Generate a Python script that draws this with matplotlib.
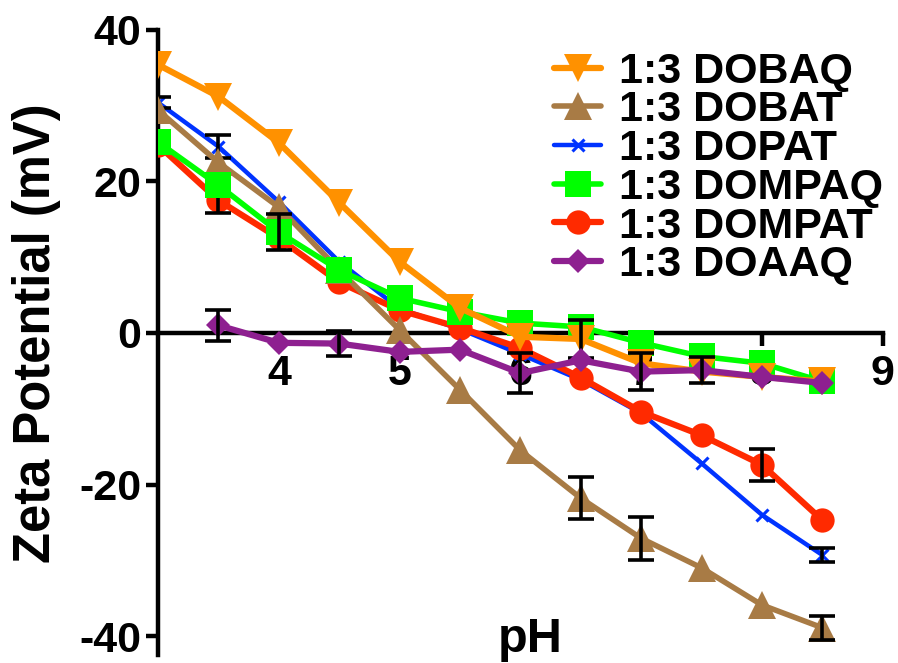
import numpy as np
import matplotlib.pyplot as plt

# ============================================================
# Style
# ============================================================

plt.rcParams.update({
    "font.family": ["Liberation Sans", "DejaVu Sans"],
    "font.weight": "bold",
    "axes.unicode_minus": False,
    "axes.linewidth": 3.2,
    "xtick.major.width": 3.2,
    "ytick.major.width": 3.2,
    "xtick.major.size": 9,
    "ytick.major.size": 9,
})

# ============================================================
# Data; sd = 0 means the bar is hidden by the marker
# ============================================================

ph = [3, 3.5, 4, 4.5, 5, 5.5, 6, 6.5, 7, 7.5, 8, 8.5]
ph_doaaq = ph[1:]

dobaq = [35.4, 31.2, 25.1, 17.2, 9.4, 3.3, -0.5, -0.8, -4.0, -5.1, -5.8, -6.4]
dobaq_sd = [0, 0, 0, 0, 0, 0, 0, 2.5, 0, 0, 0, 0]

dobat = [29.4, 22.5, 16.6, 8.3, 0.4, -7.5, -15.5, -21.8, -27.1, -31.0, -35.9, -38.9]
dobat_sd = [0, 0, 0, 0, 0, 0, 0, 2.8, 2.8, 0, 0, 1.6]

dopat = [30.4, 24.6, 17.3, 9.4, 3.2, 0.5, -2.8, -6.2, -10.6, -17.2, -24.0, -29.3]
dopat_sd = [0.7, 1.5, 0, 0, 0, 0, 0, 0, 0, 0, 0, 0.9]

dompaq = [25.2, 19.5, 13.3, 8.3, 4.6, 2.8, 1.3, 0.8, -1.3, -3.1, -4.0, -6.4]
dompaq_sd = [0, 0, 2.4, 0, 0, 0, 0, 0, 0, 0, 0, 0]

dompat = [24.8, 17.5, 12.5, 6.7, 3.0, 0.7, -2.0, -5.9, -10.4, -13.5, -17.4, -24.7]
dompat_sd = [0, 1.7, 0, 0, 0, 0, 0, 0, 0, 0, 2.1, 0]

doaaq = [1.0, -1.3, -1.4, -2.5, -2.2, -5.3, -3.6, -5.1, -4.9, -5.8, -6.6]
doaaq_sd = [2.0, 0, 1.7, 0, 0, 2.6, 0, 2.4, 1.7, 0, 0]

# label, x, y, sd, color, marker, markersize, linewidth, zorder
series = [
    ("1:3 DOBAQ", ph, dobaq, dobaq_sd, "#FF9100", "v", 20, 4.5, 9),
    ("1:3 DOBAT", ph, dobat, dobat_sd, "#A87B45", "^", 20, 4.0, 6),
    ("1:3 DOPAT", ph, dopat, dopat_sd, "#0033FF", "x", 9, 3.2, 4),
    ("1:3 DOMPAQ", ph, dompaq, dompaq_sd, "#00FF00", "s", 18.5, 4.0, 8),
    ("1:3 DOMPAT", ph, dompat, dompat_sd, "#FF2A00", "o", 17.5, 4.5, 5),
    ("1:3 DOAAQ", ph_doaaq, doaaq, doaaq_sd, "#8E2090", "D", 12.5, 4.5, 10),
]

# ============================================================
# Figure
# ============================================================

fig = plt.figure(figsize=(8.98, 6.63), dpi=100)
ax = fig.add_axes([0.176, 0.012, 0.807, 0.943])

handles = []
for label, x, y, sd, color, marker, ms, lw, z in series:
    x = np.asarray(x, dtype=float)
    y = np.asarray(y, dtype=float)
    sd = np.asarray(sd, dtype=float)
    show = sd > 0
    ax.errorbar(x[show], y[show], yerr=sd[show], fmt="none", ecolor="black",
                elinewidth=2.6, capsize=9.5, capthick=2.6, zorder=z + 0.5)
    mew = 2.2 if marker == "x" else 0
    line, = ax.plot(x, y, color=color, lw=lw, marker=marker, ms=ms,
                    mew=mew, mec=color, label=label, zorder=z,
                    solid_capstyle="round")
    handles.append(line)

ax.set_xlim(3, 9)
ax.set_ylim(-42.5, 40)

ax.spines["top"].set_visible(False)
ax.spines["right"].set_visible(False)
ax.spines["bottom"].set_position(("data", 0))

ax.set_xticks([4, 5, 6, 7, 8, 9])
ax.set_yticks([-40, -20, 0, 20, 40])
ax.tick_params(axis="x", labelsize=31, pad=6)
ax.tick_params(axis="y", labelsize=31, pad=3)

for t in ax.get_xticklabels() + ax.get_yticklabels():
    t.set_fontweight("bold")

fig.text(0.041, 0.497, "Zeta Potential (mV)", rotation=90,
         ha="center", va="center", fontsize=36.5, fontweight="bold")
ax.text(0.513, 0.005, "pH", transform=ax.transAxes, ha="center",
        va="baseline", fontsize=35, fontweight="bold")

leg = fig.legend(
    handles=handles,
    loc="upper left",
    bbox_to_anchor=(0.617, 0.922),
    frameon=False,
    prop={"size": 31, "weight": "bold"},
    handlelength=1.1,
    handletextpad=0.4,
    labelspacing=-0.03,
    borderpad=0,
    borderaxespad=0,
    numpoints=1,
)

fig.savefig("out.png", dpi=100)
